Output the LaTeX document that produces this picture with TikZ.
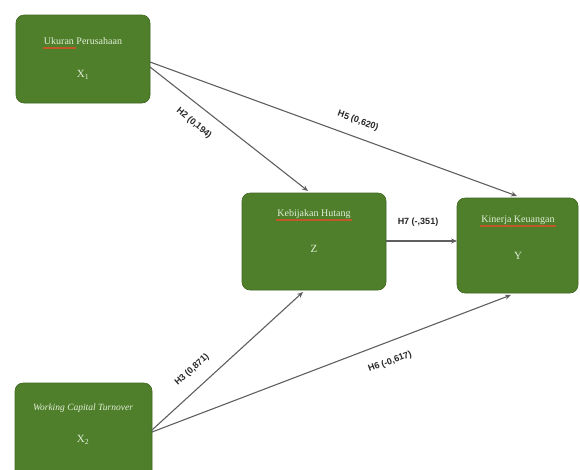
\documentclass[tikz,border=0pt]{standalone}
\usepackage{fontspec}
\setmainfont{Liberation Serif}
\newfontfamily\labfont{Liberation Sans}
\usetikzlibrary{arrows.meta}
\definecolor{boxgreen}{HTML}{4F7F2B}
\definecolor{boxtext}{HTML}{E2EFD9}
\definecolor{linegray}{HTML}{5F5F5F}
\definecolor{spellred}{HTML}{C0582A}
\tikzset{
  varbox/.style={draw=boxgreen!80!black, line width=0.6pt, fill=boxgreen, rounded corners=8pt, inner sep=0pt},
  boxtitle/.style={text=boxtext, font=\fontsize{10}{11}\selectfont, inner sep=1pt, text depth=2.2pt},
  boxsym/.style={text=boxtext, font=\fontsize{11}{12}\selectfont, inner sep=1pt},
  conn/.style={draw=linegray, line width=1.1pt, -{Stealth[length=6pt,width=5pt]}},
  plabel/.style={font=\labfont\bfseries\fontsize{9}{10}\selectfont, text=black!85, inner sep=0pt},
  spell/.style={fill=spellred, draw=none}
}
\begin{document}
\begin{tikzpicture}[x=1pt,y=-1pt]
\useasboundingbox (0,0) rectangle (580,469);
% boxes
\path[varbox] (16,15) rectangle (150,103);
\path[varbox] (242,193) rectangle (386,290);
\path[varbox] (457,198) rectangle (578,293);
\path[varbox] (15,383) rectangle (152,480);
% anchor coordinates
\coordinate (x1a) at (150,62);
\coordinate (x1b) at (150,67);
\coordinate (zt) at (308,191);
\coordinate (yt) at (517,196);
\coordinate (zr) at (386,241);
\coordinate (yl) at (457,241);
\coordinate (x2a) at (152,430);
\coordinate (x2b) at (152,432);
\coordinate (zb) at (303,292);
\coordinate (yb) at (511,295);
% box texts
\node[boxtitle] (t1) at (83,42) {Ukuran Perusahaan};
\node[boxsym] (s1) at (83,75) {X\textsubscript{1}};
\node[boxtitle] (t2) at (314,214) {Kebijakan Hutang};
\node[boxsym] (s2) at (314,249) {Z};
\node[boxtitle] (t3) at (518,220) {Kinerja Keuangan};
\node[boxsym] (s3) at (518,256) {Y};
\node[boxtitle, font=\itshape\fontsize{9.5}{10}\selectfont] (t4) at (83,408) {Working Capital Turnover};
\node[boxsym] (s4) at (83,440) {X\textsubscript{2}};
% spelling underlines
\path[spell] ([yshift=1pt]t1.south west) rectangle ([yshift=-1pt,xshift=33pt]t1.south west);
\path[spell] ([yshift=1pt]t2.south west) rectangle ([yshift=-1pt]t2.south east);
\path[spell] ([yshift=1pt]t3.south west) rectangle ([yshift=-1pt]t3.south east);
% connectors
\draw[conn] (x1b) -- (zt);
\draw[conn] (x1a) -- (yt);
\draw[conn] (zr) -- (yl);
\draw[conn] (x2a) -- (zb);
\draw[conn] (x2b) -- (yb);
% labels
\node[plabel, rotate=-40] (h2) at (194,123) {H2 (0,194)};
\node[plabel, rotate=-20] (h5) at (358,121) {H5 (0,620)};
\node[plabel] (h7) at (418,222) {H7 (-,351)};
\node[plabel, rotate=42] (h3) at (192,370) {H3 (0,871)};
\node[plabel, rotate=20] (h6) at (390,362) {H6 (-0,617)};
\end{tikzpicture}
\end{document}
